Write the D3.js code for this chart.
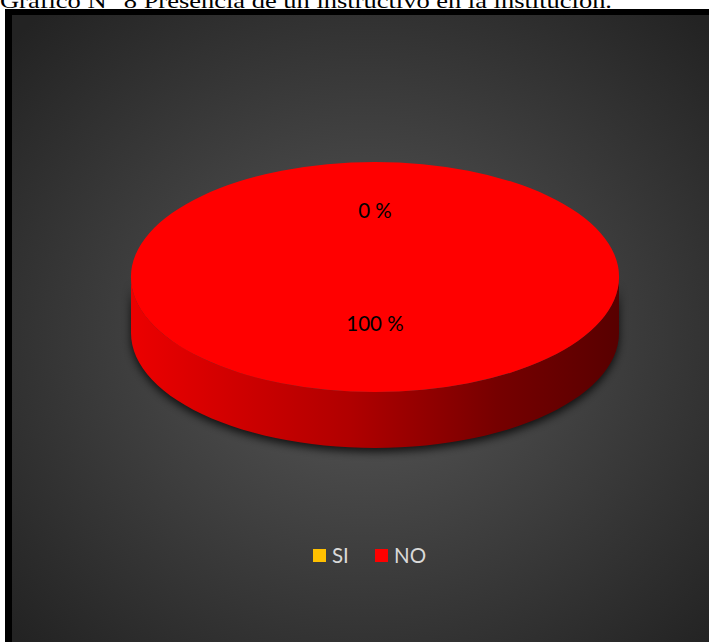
<!DOCTYPE html>
<html><head><meta charset="utf-8">
<script src="https://cdn.jsdelivr.net/npm/d3@7"></script>
<style>html,body{margin:0;padding:0;background:#fff;overflow:hidden}</style>
</head><body>
<script>
const categories = ["SI", "NO"];
const values = [0, 100];
const labels = ["0 %", "100 %"];
const colors = ["#ffc000", "#ff0000"];
const titleText = "Gráfico N° 8 Presencia de un instructivo en la institución.";

const W = 709, H = 642;
const svg = d3.select("body").append("svg").attr("width", W).attr("height", H);
const defs = svg.append("defs");

const bg = defs.append("radialGradient").attr("id", "bg")
  .attr("cx", "50%").attr("cy", "50%").attr("r", "68%");
bg.append("stop").attr("offset", "0%").attr("stop-color", "#595959");
bg.append("stop").attr("offset", "100%").attr("stop-color", "#232323");

const side = defs.append("linearGradient").attr("id", "side")
  .attr("x1", "0%").attr("x2", "100%").attr("y1", "0%").attr("y2", "0%");
side.append("stop").attr("offset", "0%").attr("stop-color", "#ec0000");
side.append("stop").attr("offset", "45%").attr("stop-color", "#b00000");
side.append("stop").attr("offset", "75%").attr("stop-color", "#760000");
side.append("stop").attr("offset", "100%").attr("stop-color", "#580000");

const blur = defs.append("filter").attr("id", "shadow")
  .attr("x", "-20%").attr("y", "-20%").attr("width", "140%").attr("height", "140%");
blur.append("feGaussianBlur").attr("stdDeviation", 4);

// title
svg.append("text").attr("x", 0).attr("y", 8)
  .attr("font-family", "Liberation Serif, Times New Roman, serif")
  .attr("font-size", 21).attr("fill", "#000")
  .attr("textLength", 612).attr("lengthAdjust", "spacingAndGlyphs")
  .text(titleText);

// frame
svg.append("rect").attr("x", 5).attr("y", 9).attr("width", W).attr("height", H).attr("fill", "#000");
svg.append("rect").attr("x", 12).attr("y", 15).attr("width", W).attr("height", H).attr("fill", "url(#bg)");

// pie
const cx = 375, cy = 277, rx = 244, ry = 115, depth = 56;
const pie = d3.pie().sort(null).value(d => d)(values);
const arc = d3.arc().innerRadius(0).outerRadius(rx);
const labelArc = d3.arc().innerRadius(rx * 0.49).outerRadius(rx * 0.49);
const k = ry / rx;

function sidePath(a0, a1) {
  const s = Math.max(a0, Math.PI / 2), e = Math.min(a1, 3 * Math.PI / 2);
  if (e <= s) return null;
  const pt = (a, dy) => [Math.sin(a) * rx, -Math.cos(a) * ry + dy];
  const n = 60, top = [], bot = [];
  for (let i = 0; i <= n; i++) {
    const a = s + (e - s) * i / n;
    top.push(pt(a, 0)); bot.push(pt(a, depth));
  }
  return d3.line()(top.concat(bot.reverse())) + "Z";
}

const g = svg.append("g").attr("transform", `translate(${cx},${cy})`);
g.selectAll("path.shadow").data(pie).enter().append("path")
  .attr("class", "shadow")
  .attr("d", d => sidePath(d.startAngle, d.endAngle))
  .attr("transform", "translate(0,4)")
  .attr("fill", "#000").attr("opacity", 0.75).attr("filter", "url(#shadow)");
g.selectAll("path.side").data(pie).enter().append("path")
  .attr("class", "side")
  .attr("d", d => sidePath(d.startAngle, d.endAngle))
  .attr("fill", (d, i) => i === 1 ? "url(#side)" : colors[i]);
const topG = g.append("g").attr("transform", `scale(1,${k})`);
topG.selectAll("path.top").data(pie).enter().append("path")
  .attr("class", "top").attr("d", arc).attr("fill", (d, i) => colors[i]);

g.selectAll("text.lbl").data(pie).enter().append("text")
  .attr("class", "lbl")
  .attr("x", d => labelArc.centroid(d)[0])
  .attr("y", d => labelArc.centroid(d)[1] * k - 10)
  .attr("dy", "0.35em")
  .attr("text-anchor", "middle")
  .attr("font-family", "Lato, Open Sans, sans-serif")
  .attr("font-size", 20.5).attr("fill", "#000")
  .text((d, i) => labels[i]);

// legend
const legend = svg.append("g").attr("transform", "translate(313,549)");
const offs = [0, 62];
categories.forEach((c, i) => {
  const lg = legend.append("g").attr("transform", `translate(${offs[i]},0)`);
  lg.append("rect").attr("width", 13).attr("height", 13).attr("fill", colors[i]);
  lg.append("text").attr("x", 19).attr("y", 7).attr("dy", "0.35em")
    .attr("font-family", "Lato, Open Sans, sans-serif").attr("font-size", 20.5)
    .attr("fill", "#d9d9d9").text(c);
});
</script>
</body></html>
